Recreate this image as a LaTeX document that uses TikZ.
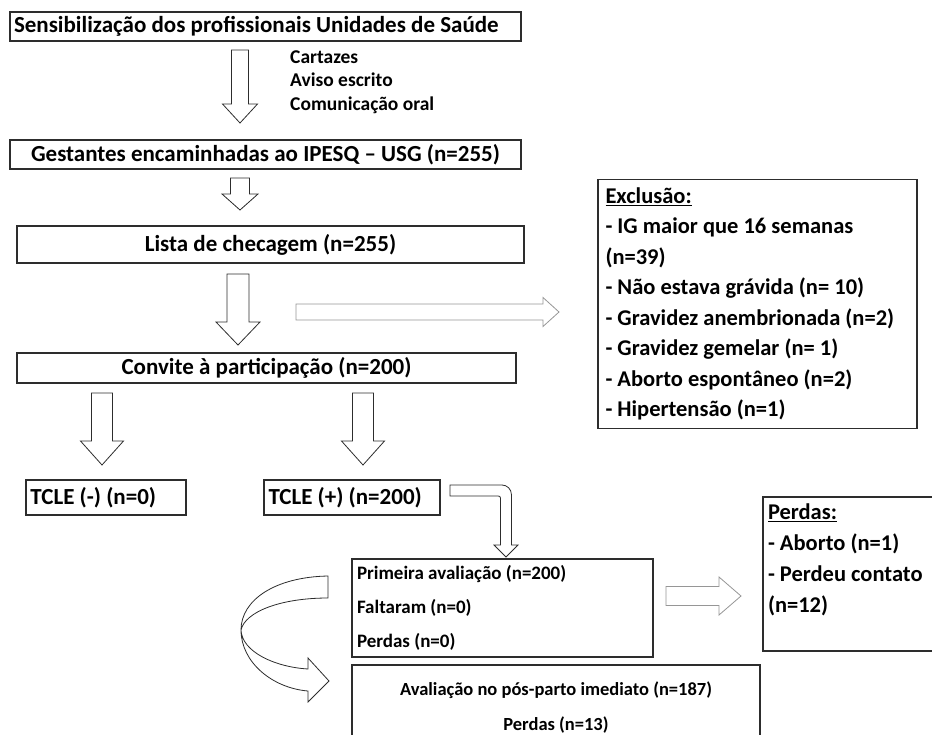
\documentclass[tikz,border=0pt]{standalone}
\usepackage{fontspec}
\setmainfont{Carlito}
\usepackage{tikz}
\usetikzlibrary{calc,positioning}
\definecolor{myline}{RGB}{45,45,45}
\definecolor{mygray}{RGB}{150,150,150}
\tikzstyle{box}=[draw=myline,line width=1.3pt,rectangle,inner sep=0pt,font=\bfseries\fontsize{23}{27}\selectfont]
\tikzstyle{note}=[inner sep=0pt,align=flush left,font=\bfseries\fontsize{19.5}{23.5}\selectfont]
\tikzstyle{blockarrow}=[draw=myline,line width=0.8pt,fill=white,line join=miter]
\tikzstyle{lightarrow}=[blockarrow,draw=mygray]
% block arrows between two named coordinates: shaft half width, head half width, head length
\newcommand{\downblock}[6][blockarrow]{\draw[#1] let \p1=(#2), \p2=(#3) in
  (\x1-#4pt,\y1) -- (\x1-#4pt,\y2+#6pt) -- (\x1-#5pt,\y2+#6pt) -- (\p2) --
  (\x1+#5pt,\y2+#6pt) -- (\x1+#4pt,\y2+#6pt) -- (\x1+#4pt,\y1) -- cycle;}
\newcommand{\rightblock}[6][blockarrow]{\draw[#1] let \p1=(#2), \p2=(#3) in
  (\x1,\y1+#4pt) -- (\x2-#6pt,\y1+#4pt) -- (\x2-#6pt,\y1+#5pt) -- (\p2) --
  (\x2-#6pt,\y1-#5pt) -- (\x2-#6pt,\y1-#4pt) -- (\x1,\y1-#4pt) -- cycle;}
\begin{document}
\begin{tikzpicture}[x=1pt,y=-1pt]
\useasboundingbox (0,0) rectangle (932,734);
% boxes
\draw (265.5,26.5) node[box, minimum width=511pt, minimum height=29pt, text width=503pt, align=flush left] (sens) {Sensibilização dos profissionais Unidades de Saúde};
\draw (290,82) node[note, anchor=west] (meios) {Cartazes\\Aviso escrito\\Comunicação oral};
\draw (265.5,154.5) node[box, minimum width=511pt, minimum height=29pt] (gest) {Gestantes encaminhadas ao IPESQ – USG (n=255)};
\draw (270.5,244.5) node[box, minimum width=507pt, minimum height=37pt] (lista) {Lista de checagem (n=255)};
\draw (266.5,368) node[box, minimum width=499pt, minimum height=30pt] (convite) {Convite à participação (n=200)};
\draw (757.5,304) node[box, minimum width=319pt, minimum height=249pt, text width=304pt, align=flush left, font=\bfseries\fontsize{22.5}{30.5}\selectfont] (exclusao) {\underline{Exclusão:}\\- IG maior que 16 semanas\\(n=39)\\- Não estava grávida (n= 10)\\- Gravidez anembrionada (n=2)\\- Gravidez gemelar (n= 1)\\- Aborto espontâneo (n=2)\\- Hipertensão (n=1)};
\draw (106,497.5) node[box, minimum width=160pt, minimum height=35pt, text width=151pt, align=flush left] (tcleneg) {TCLE (-) (n=0)};
\draw (352,497.5) node[box, minimum width=176pt, minimum height=35pt, text width=167pt, align=flush left] (tclepos) {TCLE (+) (n=200)};
\draw (502.5,608) node[box, minimum width=301pt, minimum height=98pt, text width=291pt, align=flush left, font=\bfseries\fontsize{19}{34}\selectfont] (primeira) {Primeira avaliação (n=200)\\Faltaram (n=0)\\Perdas (n=0)};
\draw (854,574) node[box, minimum width=182pt, minimum height=154pt, text width=172pt, align=flush left, font=\bfseries\fontsize{22.5}{31}\selectfont] (perdas) {\underline{Perdas:}\\- Aborto (n=1)\\- Perdeu contato\\(n=12)\\\mbox{}};
\draw (556,707.5) node[box, minimum width=408pt, minimum height=85pt, align=center, font=\bfseries\fontsize{18.5}{35}\selectfont] (posparto) {Avaliação no pós-parto imediato (n=187)\\Perdas (n=13)};
% arrows
\coordinate (a1) at (240,50); \coordinate (b1) at (240,123);
\coordinate (a2) at (240,178); \coordinate (b2) at (240,210);
\coordinate (a3) at (238,274); \coordinate (b3) at (238,345);
\coordinate (a4) at (102,393); \coordinate (b4) at (102,465);
\coordinate (a5) at (363,393); \coordinate (b5) at (363,465);
\coordinate (h1) at (296,312); \coordinate (k1) at (559,312);
\coordinate (h2) at (666,596); \coordinate (k2) at (741,596);
\downblock{a1}{b1}{8.5}{17.5}{19}
\downblock{a2}{b2}{9.5}{18}{16}
\downblock{a3}{b3}{11}{22}{23}
\downblock{a4}{b4}{10.5}{21.5}{24}
\downblock{a5}{b5}{10.5}{21.5}{24}
\rightblock[lightarrow]{h1}{k1}{8}{14.5}{16}
\rightblock[lightarrow]{h2}{k2}{9.5}{19}{22}
% bent arrow from TCLE (+)
\draw[blockarrow] (450,485) -- (502,485) .. controls (507,485) and (511.5,489) .. (511.5,495) -- (511.5,545) -- (518,545) -- (506,557) -- (494,545) -- (500.5,545) -- (500.5,498) .. controls (500.5,496.5) and (499.5,496) .. (498,496) -- (450,496) -- cycle;
% curved arrow
\draw[blockarrow] (328,576) .. controls (275,577) and (241,600) .. (241,630) .. controls (241,662) and (272,688) .. (308,691) -- (308,702) -- (329,681) -- (308,658) -- (308,669) .. controls (275,667) and (242,652) .. (241,630) .. controls (245,612) and (280,598) .. (328,598) -- cycle;
\end{tikzpicture}
\end{document}
